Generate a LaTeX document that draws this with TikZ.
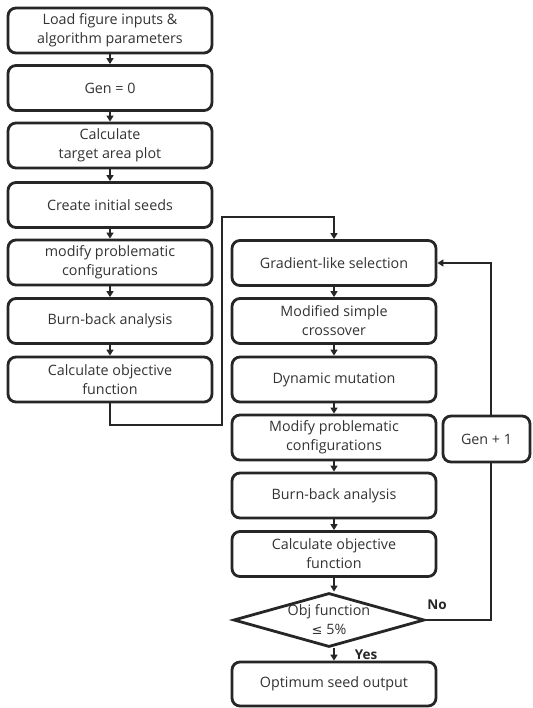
\documentclass[tikz,border=0pt]{standalone}
\usepackage{fontspec}
\setmainfont{Open Sans}
\newfontfamily\symfont{DejaVu Sans}
\usetikzlibrary{arrows.meta,shapes.geometric}
\begin{document}
\begin{tikzpicture}[x=1pt,y=-1pt,
  box/.style={draw=black!85, line width=2.8pt, rounded corners=8pt, fill=white,
    minimum width=204pt, minimum height=45pt, align=center,
    font=\fontsize{14.3}{19}\selectfont, text=black!80, inner sep=2pt},
  gbox/.style={box, minimum width=87pt, minimum height=46pt},
  dia/.style={draw=black!85, line width=2.8pt, diamond, aspect=3.55, fill=white,
    minimum width=191pt, minimum height=54pt, inner sep=0pt, align=center,
    font=\fontsize{14.3}{19}\selectfont, text=black!80},
  conn/.style={draw=black!85, line width=2.8pt, -{Triangle[length=6pt,width=7pt]}},
  lbl/.style={font=\fontsize{13.5}{15}\selectfont\bfseries, text=black!85}]
\useasboundingbox (0,0) rectangle (532,708);
% left column
\node[box] (a1) at (110,30.5) {Load figure inputs \&\\algorithm parameters};
\node[box] (a2) at (110,88) {Gen = 0};
\node[box] (a3) at (110,145.5) {Calculate\\target area plot};
\node[box] (a4) at (110,205) {Create initial seeds};
\node[box] (a5) at (110,262.5) {modify problematic\\configurations};
\node[box] (a6) at (110,321) {Burn-back analysis};
\node[box] (a7) at (110,379.5) {Calculate objective\\function};
% right column
\node[box] (b1) at (334,263) {Gradient-like selection};
\node[box] (b2) at (334,321) {Modified simple\\crossover};
\node[box] (b3) at (334,379.5) {Dynamic mutation};
\node[box] (b4) at (334,437.5) {Modify problematic\\configurations};
\node[box] (b5) at (334,495.5) {Burn-back analysis};
\node[box] (b6) at (334,554) {Calculate objective\\function};
\node[dia] (d) at (329,620) {Obj function\\{\symfont\fontsize{13}{15}\selectfont ≤} 5\%};
\node[box, minimum height=44pt] (out) at (334,684) {Optimum seed output};
% connectors
\draw[conn] (a1) -- (a2);
\draw[conn] (a2) -- (a3);
\draw[conn] (a3) -- (a4);
\draw[conn] (a4) -- (a5);
\draw[conn] (a5) -- (a6);
\draw[conn] (a6) -- (a7);
\coordinate (j1) at (110,425);
\coordinate (j2) at (222,425);
\coordinate (j3) at (222,217);
\coordinate (j4) at (334,217);
\draw[conn] (a7.south) -- (j1) -- (j2) -- (j3) -- (j4) -- (b1.north);
\draw[conn] (b1) -- (b2);
\draw[conn] (b2) -- (b3);
\draw[conn] (b3) -- (b4);
\draw[conn] (b4) -- (b5);
\draw[conn] (b5) -- (b6);
\draw[conn] (b6.south) -- (d.north -| b6.south);
\draw[conn] (d.south -| out.north) -- (out.north);
% loop
\coordinate (l1) at (491,620);
\coordinate (l2) at (491,263);
\draw[conn] (d.east) -- (l1) -- (l2) -- (b1.east);
\node[gbox] (g) at (486.5,439) {Gen + 1};
\node[lbl] (no) at (437,605) {No};
\node[lbl] (yes) at (366,655) {Yes};
\end{tikzpicture}
\end{document}
